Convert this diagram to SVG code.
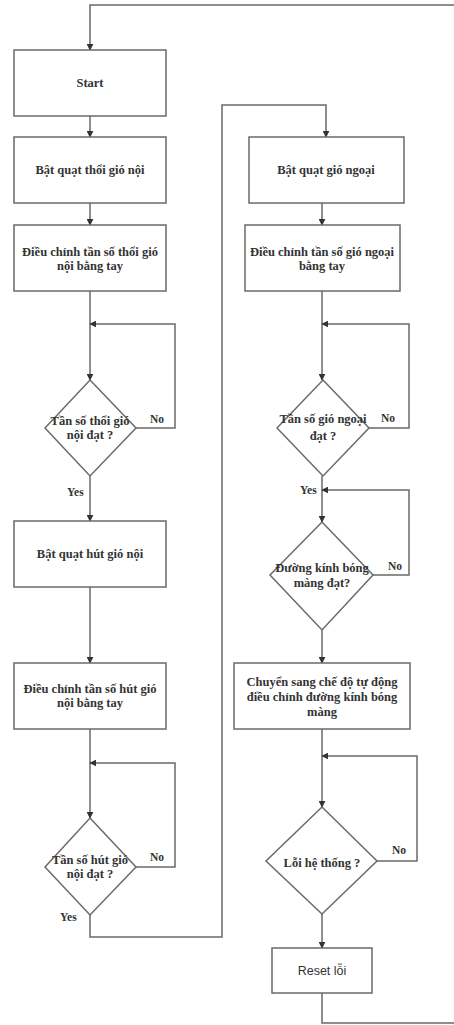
<svg xmlns="http://www.w3.org/2000/svg" width="454" height="1025" viewBox="0 0 454 1025">
  <style>
    .box { fill: #ffffff; stroke: #6a6a6a; stroke-width: 1.5; }
    .dia { fill: #ffffff; stroke: #6a6a6a; stroke-width: 1.5; }
    .line { fill: none; stroke: #6a6a6a; stroke-width: 1.5; }
    .t { font-family: "Liberation Serif", "Times New Roman", serif; font-weight: bold; font-size: 12.5px; fill: #333333; text-anchor: middle; }
    .lbl { font-family: "Liberation Serif", "Times New Roman", serif; font-weight: bold; font-size: 11.5px; fill: #333333; }
    .s { font-family: "Liberation Sans", Arial, sans-serif; font-size: 12.5px; fill: #333333; text-anchor: middle; }
  </style>
  <defs>
    <marker id="arrow" viewBox="0 0 10 10" refX="9" refY="5" markerWidth="7" markerHeight="7" orient="auto" markerUnits="userSpaceOnUse">
      <path d="M0,0 L10,5 L0,10 z" fill="#333333"/>
    </marker>
  </defs>
  <rect width="454" height="1025" fill="#ffffff"/>

  <!-- connectors -->
  <g id="connectors">
    <!-- return path from Reset back to Start -->
    <path class="line" d="M322,993 V1023 H460 M460,5 H90 V50" marker-end="url(#arrow)"/>
    <path class="line" d="M90,116 V137" marker-end="url(#arrow)"/>
    <path class="line" d="M90,203 V225" marker-end="url(#arrow)"/>
    <path class="line" d="M90,291 V380" marker-end="url(#arrow)"/>
    <path class="line" d="M136,428 H175 V324 H90" marker-end="url(#arrow)"/>
    <path class="line" d="M90,476 V521" marker-end="url(#arrow)"/>
    <path class="line" d="M90,587 V663" marker-end="url(#arrow)"/>
    <path class="line" d="M90,729 V818" marker-end="url(#arrow)"/>
    <path class="line" d="M136,867 H175 V763 H90" marker-end="url(#arrow)"/>
    <path class="line" d="M90,915 V937 H222 V105 H326 V137" marker-end="url(#arrow)"/>
    <path class="line" d="M322,203 V225" marker-end="url(#arrow)"/>
    <path class="line" d="M322,291 V380" marker-end="url(#arrow)"/>
    <path class="line" d="M369,428 H409 V324 H322" marker-end="url(#arrow)"/>
    <path class="line" d="M322,476 V522" marker-end="url(#arrow)"/>
    <path class="line" d="M373,575 H409 V490 H322" marker-end="url(#arrow)"/>
    <path class="line" d="M322,630 V663" marker-end="url(#arrow)"/>
    <path class="line" d="M322,729 V807" marker-end="url(#arrow)"/>
    <path class="line" d="M377,861 H417 V756 H322" marker-end="url(#arrow)"/>
    <path class="line" d="M322,914 V948" marker-end="url(#arrow)"/>
    <!-- branch labels -->
    <text class="lbl" x="150" y="423">No</text>
    <text class="lbl" x="67" y="496">Yes</text>
    <text class="lbl" x="150" y="861">No</text>
    <text class="lbl" x="60" y="921">Yes</text>
    <text class="lbl" x="381" y="422">No</text>
    <text class="lbl" x="300" y="494">Yes</text>
    <text class="lbl" x="388" y="570">No</text>
    <text class="lbl" x="392" y="854">No</text>
  </g>

  <g id="start">
    <rect class="box" x="14" y="50" width="152" height="66"/>
    <text class="t" x="90" y="87">Start</text>
  </g>
  <g id="bat-quat-thoi">
    <rect class="box" x="14" y="137" width="152" height="66"/>
    <text class="t" x="90" y="174">Bật quạt thổi gió nội</text>
  </g>
  <g id="dieu-chinh-thoi">
    <rect class="box" x="14" y="225" width="152" height="66"/>
    <text class="t" x="90" y="256">Điều chỉnh tần số thổi gió</text>
    <text class="t" x="90" y="270">nội bằng tay</text>
  </g>
  <g id="kiem-tra-thoi">
    <polygon class="dia" points="90,380 136,428 90,476 45,428"/>
    <text class="t" x="90" y="425">Tần số thổi gió</text>
    <text class="t" x="90" y="439">nội đạt ?</text>
  </g>
  <g id="bat-quat-hut">
    <rect class="box" x="14" y="521" width="152" height="66"/>
    <text class="t" x="90" y="558">Bật quạt hút gió nội</text>
  </g>
  <g id="dieu-chinh-hut">
    <rect class="box" x="14" y="663" width="152" height="66"/>
    <text class="t" x="90" y="693">Điều chỉnh tần số hút gió</text>
    <text class="t" x="90" y="707">nội bằng tay</text>
  </g>
  <g id="kiem-tra-hut">
    <polygon class="dia" points="90,818 136,867 90,915 45,867"/>
    <text class="t" x="90" y="864">Tần số hút gió</text>
    <text class="t" x="90" y="878">nội đạt ?</text>
  </g>

  <g id="bat-quat-ngoai">
    <rect class="box" x="249" y="137" width="155" height="66"/>
    <text class="t" x="326" y="174">Bật quạt gió ngoại</text>
  </g>
  <g id="dieu-chinh-ngoai">
    <rect class="box" x="245" y="225" width="155" height="66"/>
    <text class="t" x="322" y="256">Điều chỉnh tần số gió ngoại</text>
    <text class="t" x="322" y="270">bằng tay</text>
  </g>
  <g id="kiem-tra-ngoai">
    <polygon class="dia" points="323,380 369,428 323,476 277,428"/>
    <text class="t" x="323" y="423">Tần số gió ngoại</text>
    <text class="t" x="323" y="440">đạt ?</text>
  </g>
  <g id="kiem-tra-bong">
    <polygon class="dia" points="322,522 373,575 322,630 270,575"/>
    <text class="t" x="322" y="572">Đường kính bóng</text>
    <text class="t" x="322" y="587">màng đạt?</text>
  </g>
  <g id="tu-dong">
    <rect class="box" x="234" y="663" width="176" height="66"/>
    <text class="t" x="322" y="686">Chuyển sang chế độ tự động</text>
    <text class="t" x="322" y="701">điều chỉnh đường kính bóng</text>
    <text class="t" x="322" y="716">màng</text>
  </g>
  <g id="loi-he-thong">
    <polygon class="dia" points="322,807 377,861 322,914 266,861"/>
    <text class="t" x="322" y="867">Lỗi hệ thống ?</text>
  </g>
  <g id="reset">
    <rect class="box" x="272" y="948" width="100" height="45"/>
    <text class="s" x="322" y="975">Reset lỗi</text>
  </g>
</svg>
